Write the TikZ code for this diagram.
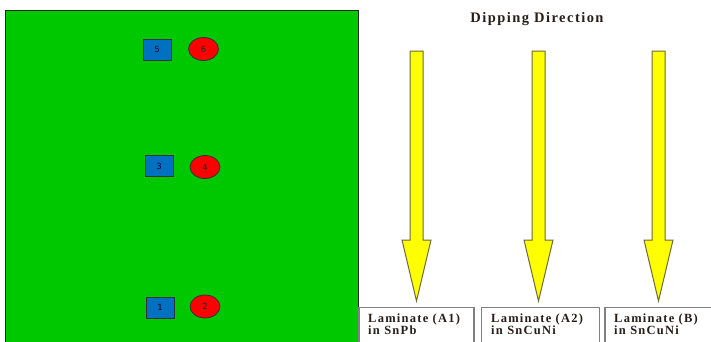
\documentclass[tikz,border=0pt]{standalone}
\usepackage{fontspec}
\setmainfont{Liberation Serif}
\newfontfamily\lblfont{DejaVu Sans}
\newfontfamily\spacedfont[LetterSpace=10]{Liberation Serif}
\usetikzlibrary{shapes.geometric}
\definecolor{board}{RGB}{0,200,0}
\definecolor{padblue}{RGB}{0,112,192}
\definecolor{padred}{RGB}{255,0,0}
\definecolor{arrowyellow}{RGB}{255,255,0}
\definecolor{arrowedge}{RGB}{110,105,60}
\definecolor{boxedge}{RGB}{128,128,128}
\definecolor{inktext}{RGB}{40,30,25}
\tikzset{
  sqpad/.style={rectangle, draw=black!80, fill=padblue, line width=0.8pt,
    minimum width=28pt, minimum height=21pt, inner sep=0pt,
    font=\lblfont\fontsize{8.5}{9}\selectfont, text=black!85!blue},
  elpad/.style={ellipse, draw=black!80, fill=padred, line width=0.8pt,
    minimum width=30pt, minimum height=23pt, inner sep=0pt,
    font=\lblfont\fontsize{8.5}{9}\selectfont, text=black!85},
  arrowst/.style={fill=arrowyellow, draw=arrowedge, line width=1pt, line join=miter},
  lamibox/.style={draw=boxedge, line width=1.2pt, fill=white},
  lamitext/.style={anchor=north west, align=left, inner sep=0pt,
    font=\spacedfont\bfseries\fontsize{12.5}{12.5}\selectfont, text=inktext},
}
\newcommand\dirarrow[2]{%
  \filldraw[arrowst] ({#1-6.5},51) -- ({#1+6.5},51) -- ({#1+6.5},240)
    -- ({#1+14.5},240) -- (#1,301) -- ({#1-14.5},240) -- ({#1-6.5},240) -- cycle;
  \coordinate (#2) at (#1,301);}
\begin{document}
\begin{tikzpicture}[x=1pt,y=-1pt]
\useasboundingbox (0,0) rectangle (711,341);
\clip (0,0) rectangle (711,341);
\fill[white] (0,0) rectangle (711,341);
% board
\draw[fill=board, draw=black!85, line width=1pt] (5,10) rectangle (358,360);
% pads
\node[sqpad] (s5) at (157,49.5) {5};
\node[elpad] (e6) at (203.5,49) {6};
\node[sqpad] (s3) at (159,166) {3};
\node[elpad] (e4) at (205,167) {4};
\node[sqpad] (s1) at (160,307.5) {1};
\node[elpad] (e2) at (205,306.5) {2};
% title
\node[font=\spacedfont\bfseries\fontsize{14.5}{15}\selectfont, text=inktext] (title) at (537,19.5) {Dipping Direction};
% arrows
\dirarrow{416.5}{a1}
\dirarrow{538.5}{a2}
\dirarrow{658.5}{a3}
% laminate boxes
\draw[lamibox] (359,307.5) rectangle (474,360);
\draw[lamibox] (481.5,307.5) rectangle (599.5,360);
\draw[lamibox] (605,307.5) rectangle (720,360);
\node[lamitext] (b1) at (368,313.5) {Laminate (A1)\\in SnPb};
\node[lamitext] (b2) at (491,313.5) {Laminate (A2)\\in SnCuNi};
\node[lamitext] (b3) at (614,313.5) {Laminate (B)\\in SnCuNi};
\end{tikzpicture}
\end{document}
